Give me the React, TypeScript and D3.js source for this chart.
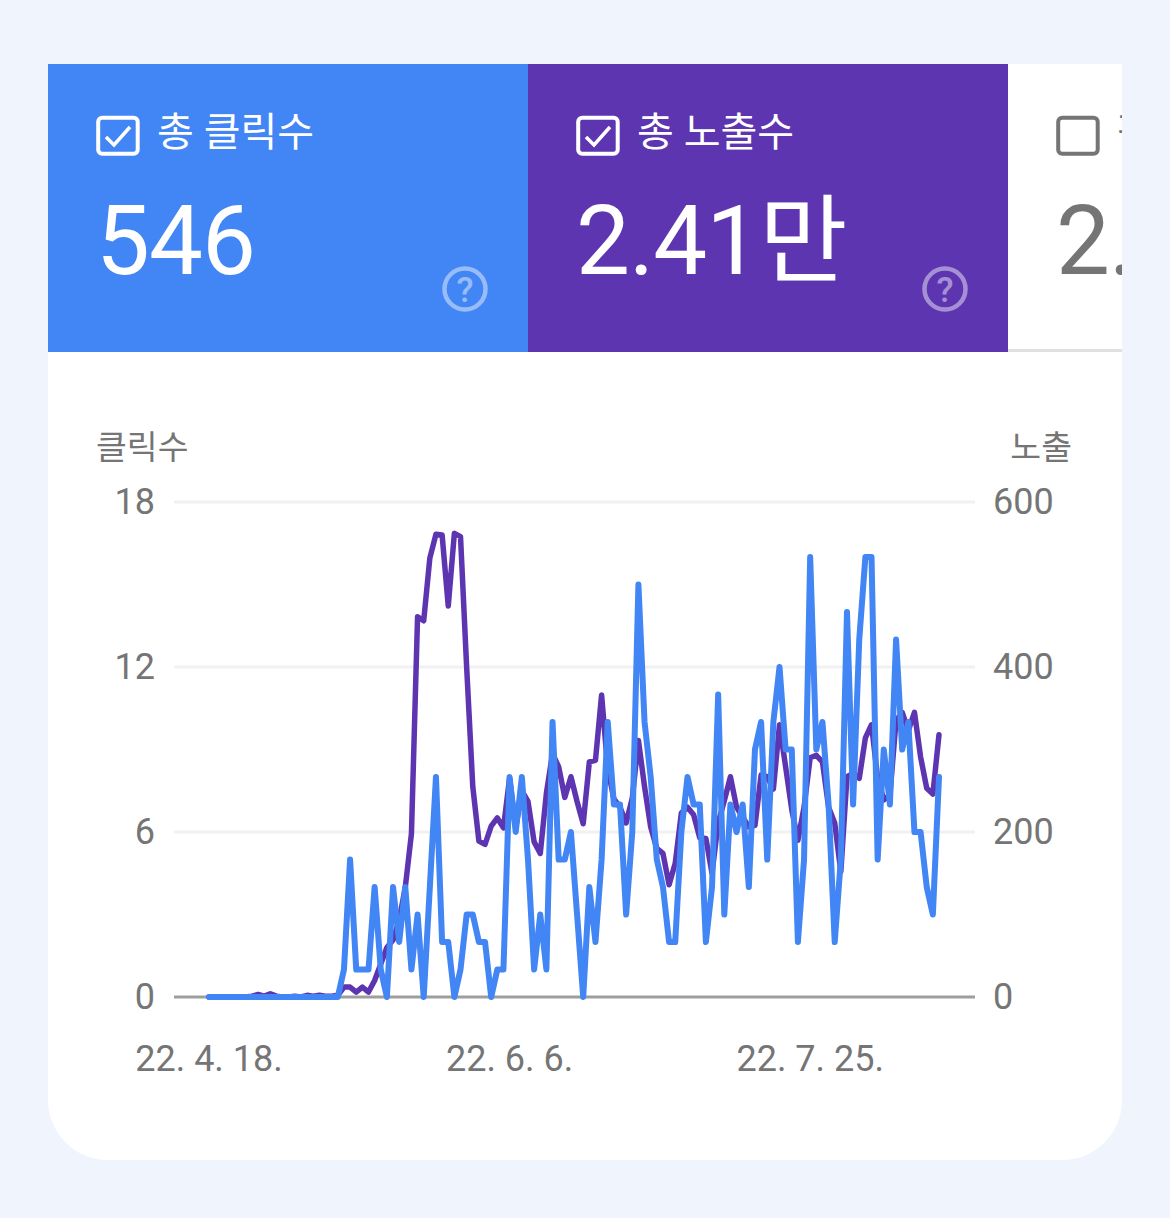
import * as d3 from "d3";

const clicks = [
  0, 0, 0, 0, 0, 0, 0, 0, 0, 0, 0, 0, 0, 0, 0, 0, 0, 0, 0, 0, 0, 0, 1, 5, 1, 1, 1, 4, 1, 0,
  4, 2, 4, 1, 3, 0, 4, 8, 2, 2, 0, 1, 3, 3, 2, 2, 0, 1, 1, 8, 6, 8, 5, 1, 3, 1, 10, 5, 5, 6,
  3, 0, 4, 2, 5, 10, 7, 7, 3, 6, 15, 10, 8, 5, 4, 2, 2, 6, 8, 7, 7, 2, 4, 11, 3, 7, 6, 7, 4, 9,
  10, 5, 10, 12, 9, 9, 2, 5, 16, 9, 10, 7, 2, 5, 14, 7, 13, 16, 16, 5, 9, 7, 13, 9, 10, 6, 6, 4, 3, 8,
];

const impressions = [
  0, 0, 0, 0, 0, 0, 0, 1, 3, 1, 4, 1, 0, 0, 1, 0, 2, 1, 2, 1, 1, 2, 12, 12, 6, 12, 6, 20, 40, 60,
  69, 93, 133, 198, 461, 456, 532, 561, 560, 474, 562, 558, 400, 255, 189, 185, 207, 217, 205, 265, 205, 250, 237, 188, 174, 247, 295, 279, 242, 267,
  237, 210, 285, 287, 366, 277, 240, 230, 211, 241, 311, 255, 206, 180, 174, 136, 162, 223, 230, 221, 193, 192, 150, 211, 238, 267, 230, 218, 206, 208,
  269, 267, 252, 330, 279, 227, 190, 230, 290, 293, 285, 230, 211, 152, 267, 271, 265, 314, 330, 265, 239, 245, 335, 345, 323, 345, 291, 253, 246, 318,
];

const startDate = new Date(2022, 3, 18);
const dates = clicks.map((_, i) => d3.timeDay.offset(startDate, i));
const dateTicks = [new Date(2022, 3, 18), new Date(2022, 5, 6), new Date(2022, 6, 25)];
const clickTicks = [0, 6, 12, 18];
const impressionTicks = [0, 200, 400, 600];

const BLUE = "#4285f4";
const PURPLE = "#5e35b1";
const GREY = "#757575";
const FONT = "Roboto, 'Noto Sans CJK KR', sans-serif";

const x = d3.scaleTime().domain([dates[0], dates[dates.length - 1]]).range([209, 939]);
const yLeft = d3.scaleLinear().domain([0, 18]).range([997, 502]);
const yRight = d3.scaleLinear().domain([0, 600]).range([997, 502]);

const clickLine = d3.line<number>().x((_, i) => x(dates[i])).y((d) => yLeft(d));
const impressionLine = d3.line<number>().x((_, i) => x(dates[i])).y((d) => yRight(d));

const fmtDate = (d: Date) => `${String(d.getFullYear()).slice(2)}. ${d.getMonth() + 1}. ${d.getDate()}.`;

function Tab({ left, fill, fg, label, value, checked, help }: {
  left: number; fill: string; fg: string; label: string; value: string; checked: boolean; help: boolean;
}) {
  return (
    <g transform={`translate(${left},64)`}>
      <rect width={480} height={288} fill={fill} />
      <rect x={50.2} y={53.7} width={39.5} height={36} rx={4} fill="none" stroke={fg} strokeWidth={4} />
      {checked && <path d="M58 73l8 8 16-18" fill="none" stroke={fg} strokeWidth={3.5} />}
      <text x={109} y={82} fontSize={40} fill={fg} fontFamily={FONT}>{label}</text>
      <text x={48} y={210} fontSize={96} letterSpacing={-1} fill={fg} fontFamily={FONT}>{value}</text>
      {help && (
        <g opacity={0.45}>
          <circle cx={417} cy={225} r={20.5} fill="none" stroke="#fff" strokeWidth={4.5} />
          <text x={417} y={238} fontSize={35} fontWeight={500} textAnchor="middle" fill="#fff" fontFamily={FONT}>?</text>
        </g>
      )}
    </g>
  );
}

export default function App() {
  return (
    <svg width={1170} height={1218} style={{ position: "absolute", left: 0, top: 0 }}>
      <defs>
        <clipPath id="card">
          <path d="M48 64H1122V1100a60 60 0 0 1-60 60H108a60 60 0 0 1-60-60Z" />
        </clipPath>
      </defs>
      <rect width={1170} height={1218} fill="#f0f5fd" />
      <g clipPath="url(#card)">
        <rect x={48} y={64} width={1074} height={1096} fill="#fff" />
        <Tab left={48} fill={BLUE} fg="#fff" label="총 클릭수" value="546" checked help />
        <Tab left={528} fill={PURPLE} fg="#fff" label="총 노출수" value="2.41만" checked help />
        <Tab left={1008} fill="#fff" fg={GREY} label="평균 CTR" value="2.3%" checked={false} help={false} />
        <rect x={1008} y={349} width={114} height={3} fill="#e0e0e0" />
      </g>

      <text x={96} y={459} fontSize={33.5} fill={GREY} fontFamily={FONT}>클릭수</text>
      <text x={1072} y={459} fontSize={33.5} fill={GREY} textAnchor="end" fontFamily={FONT}>노출</text>

      {clickTicks.map((t) => (
        <g key={t}>
          <line x1={174} x2={975} y1={yLeft(t)} y2={yLeft(t)} stroke={t === 0 ? "#9e9e9e" : "#f1f1f1"} strokeWidth={3} />
          <text x={155} y={yLeft(t) + 12} fontSize={36} fill={GREY} textAnchor="end" fontFamily={FONT}>{t}</text>
        </g>
      ))}
      {impressionTicks.map((t) => (
        <text key={t} x={993} y={yRight(t) + 12} fontSize={36} fill={GREY} fontFamily={FONT}>{t}</text>
      ))}
      {dateTicks.map((d) => (
        <text key={d.getTime()} x={x(d)} y={1071} fontSize={36} fill={GREY} textAnchor="middle" fontFamily={FONT}>{fmtDate(d)}</text>
      ))}

      <path d={impressionLine(impressions) ?? ""} fill="none" stroke={PURPLE} strokeWidth={5.5} strokeLinejoin="round" strokeLinecap="round" />
      <path d={clickLine(clicks) ?? ""} fill="none" stroke={BLUE} strokeWidth={6} strokeLinejoin="round" strokeLinecap="round" />
    </svg>
  );
}
